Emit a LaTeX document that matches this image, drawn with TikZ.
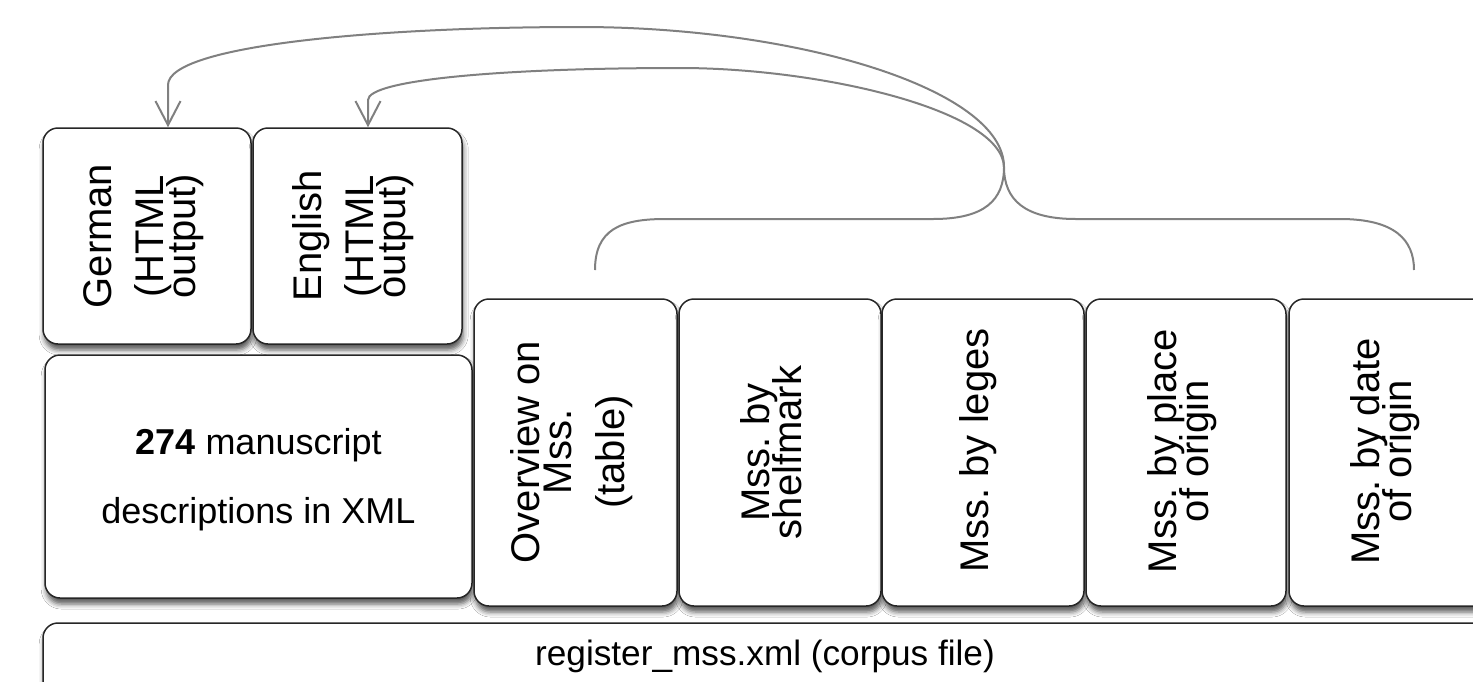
\documentclass[tikz,border=0pt]{standalone}
\usepackage{fontspec}
\setmainfont{Liberation Sans}
\usetikzlibrary{arrows.meta,shadows.blur}
\begin{document}
\lineskiplimit=-100pt
\frenchspacing
\begin{tikzpicture}[x=0.5pt,y=-0.5pt,
  box/.style={draw=black!85, line width=0.75pt, fill=white, rounded corners=7.5pt, inner sep=0pt,
    blur shadow={shadow xshift=0.6pt, shadow yshift=-3pt, shadow blur radius=2.5pt, shadow opacity=65}},
  vtext/.style={rotate=90, align=center, inner sep=0pt, font=\fontsize{20}{16}\selectfont},
  htext/.style={inner sep=0pt, font=\fontsize{18}{18}\selectfont},
  conn/.style={draw=black!50, line width=1pt},
  arr/.style={conn, -{Straight Barb[length=12pt,width=12.5pt]}}
]
\clip (0,0) rectangle (1473,681);
\fill[white] (0,0) rectangle (1473,681);

% boxes
\node[box, minimum width=104pt, minimum height=108pt] (german) at (147,236) {};
\node[box, minimum width=104.5pt, minimum height=108pt] (english) at (357.5,236) {};
\node[box, minimum width=213.5pt, minimum height=121.5pt] (xml) at (258.5,476.5) {};
\node[box, minimum width=101.5pt, minimum height=153.5pt] (overview) at (575.5,452.5) {};
\node[box, minimum width=101pt, minimum height=153.5pt] (shelf) at (780,452.5) {};
\node[box, minimum width=101pt, minimum height=153.5pt] (leges) at (983,452.5) {};
\node[box, minimum width=100pt, minimum height=153.5pt] (place) at (1186,452.5) {};
\node[box, minimum width=101.5pt, minimum height=153.5pt] (date) at (1390.5,452.5) {};
\node[box, minimum width=743.5pt, minimum height=58.5pt] (corpus) at (786.5,681.5) {};

% texts
\node[vtext] (germanT) at (144,236) {German\\[10pt](HTML\\output)};
\node[vtext] (englishT) at (353,236) {English\\[10pt](HTML\\output)};
\node[vtext] (overviewT) at (572,452) {Overview on\\Mss.\\[10.5pt](table)};
\node[vtext] (shelfT) at (771.5,452.5) {Mss. by\\shelfmark};
\node[vtext] (legesT) at (977.7,450.5) {Mss. by leges};
\node[vtext] (placeT) at (1182.5,451) {Mss. by place\\of origin};
\node[vtext] (dateT) at (1385.5,451.5) {Mss. by date\\of origin};
\node[htext, align=center, font=\fontsize{18}{34.5}\selectfont] (xmlT) at (258.5,480) {\textbf{274} manuscript\\descriptions in XML};
\node[htext, anchor=base, font=\fontsize{17.6}{18}\selectfont] (corpusT) at (765,665) {register\_mss.xml (corpus file)};

% bracket and connectors
\coordinate (hub) at (1004,167);
\coordinate (bl) at (595,270);
\coordinate (br) at (1414,270);
\draw[conn] (bl) .. controls (595,230) and (620,219) .. (665,219) -- (933,219)
  .. controls (985,219) and (1004,200) .. (hub)
  .. controls (1004,200) and (1025,219) .. (1076,219) -- (1340,219)
  .. controls (1395,219) and (1414,240) .. (br);
\draw[arr] (hub) .. controls (1004,90) and (800,27) .. (580,27)
  .. controls (380,27) and (168,45) .. (168,85) -- ([xshift=10.5pt]german.north);
\draw[arr] (hub) .. controls (1002,110) and (820,68) .. (680,68)
  .. controls (500,68) and (368,80) .. (368,100) -- ([xshift=5.25pt]english.north);
\end{tikzpicture}
\end{document}
